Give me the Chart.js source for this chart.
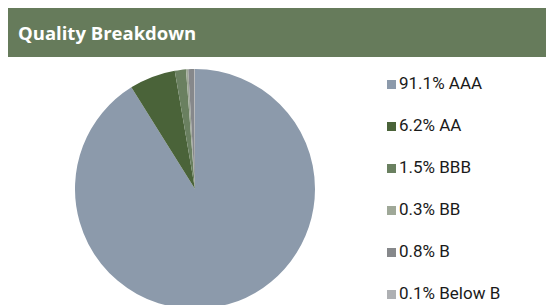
<!DOCTYPE html>
<html>
<head>
<meta charset="utf-8">
<script src="https://cdn.jsdelivr.net/npm/chart.js@4"></script>
<style>
  html, body { margin: 0; padding: 0; background: #fff; width: 546px; height: 305px; overflow: hidden; }
  #header {
    position: absolute; left: 8px; top: 8px; width: 538px; height: 49px;
    background: #667b5b; color: #fff;
    font-family: "Open Sans", sans-serif; font-weight: bold; font-size: 18.5px;
    line-height: 49px; padding-left: 10px; box-sizing: border-box;
  }
  #pieBox { position: absolute; left: 75px; top: 69px; width: 240px; height: 240px; }
  #legend { position: absolute; left: 387px; top: 73px; font-family: Roboto, sans-serif; font-size: 17px; color: #1a1a1a; }
  .row { height: 42px; display: flex; align-items: flex-start; }
  .sw { width: 9px; height: 9px; margin-top: 7px; margin-right: 3px; }
</style>
</head>
<body>
<div id="header">Quality Breakdown</div>
<div id="pieBox"><canvas id="pie"></canvas></div>
<div id="legend"></div>
<script>
// Credit quality categories and their share (%)
const categories = ['AAA', 'AA', 'BBB', 'BB', 'B', 'Below B'];
const shares = [91.1, 6.2, 1.5, 0.3, 0.8, 0.1];
const sliceColors = ['#8c9aab', '#4a6339', '#6a8060', '#9fa898', '#86888b', '#aeb0b3'];

// Build the legend from the same arrays
const legendEl = document.getElementById('legend');
categories.forEach((cat, i) => {
    const row = document.createElement('div');
    row.className = 'row';
    row.innerHTML = '<span class="sw" style="background:' + sliceColors[i] + '"></span>' +
        '<span>' + shares[i].toFixed(1) + '% ' + cat + '</span>';
    legendEl.appendChild(row);
});

const ctx = document.getElementById('pie').getContext('2d');
new Chart(ctx, {
    type: 'pie',
    data: {
        labels: categories,
        datasets: [{
            data: shares,
            backgroundColor: sliceColors,
            borderWidth: 0
        }]
    },
    options: {
        responsive: true,
        maintainAspectRatio: false,
        animation: false,
        layout: { padding: 0 },
        plugins: {
            legend: { display: false },
            tooltip: { enabled: false }
        }
    }
});
</script>
</body>
</html>
